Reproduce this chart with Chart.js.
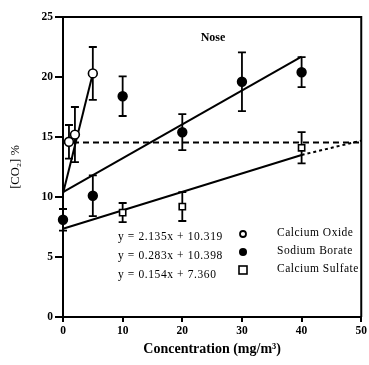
<!DOCTYPE html>
<html>
<head>
<meta charset="UTF-8">
<title>Nose CO2</title>
<script src="https://cdn.jsdelivr.net/npm/chart.js"></script>
<style>
  html, body { margin: 0; padding: 0; background: #fff; }
  #wrap { width: 369px; height: 365px; }
</style>
</head>
<body>
<div id="wrap"><canvas id="c"></canvas></div>
<script>
// values
const oxideX = [1, 2, 5];
const oxideY = [14.6, 15.2, 20.3];
const oxideErr = [1.4, 2.3, 2.2];

const borateX = [0, 5, 10, 20, 30, 40];
const borateY = [8.1, 10.1, 18.4, 15.4, 19.6, 20.4];
const borateErr = [0.9, 1.7, 1.65, 1.5, 2.45, 1.25];

const sulfateX = [10, 20, 40];
const sulfateY = [8.7, 9.2, 14.1];
const sulfateErr = [0.8, 1.2, 1.3];

// fitted lines (end points)
const oxideFitX = [0, 5];
const oxideFitY = [10.3, 20.3];
const borateFitX = [0, 40];
const borateFitY = [10.4, 21.7];
const sulfateFitX = [0, 40];
const sulfateFitY = [7.35, 13.5];
const sulfateExtX = [40, 50];
const sulfateExtY = [13.5, 14.7];
const baselineX = [0, 50];
const baselineY = [14.55, 14.55];

const seriesNames = ['Calcium Oxide', 'Sodium Borate', 'Calcium Sulfate'];
const equations = ['y = 2.135x + 10.319', 'y = 0.283x + 10.398', 'y = 0.154x + 7.360'];
const xTicks = [0, 10, 20, 30, 40, 50];
const yTicks = [0, 5, 10, 15, 20, 25];

const pts = (xs, ys) => xs.map((x, i) => ({ x: x, y: ys[i] }));
const serif = 'Liberation Serif, Times New Roman, serif';

function lineSet(xs, ys, dash) {
  return {
    type: 'line', data: pts(xs, ys), borderColor: '#000', borderWidth: 2,
    borderDash: dash || [], pointRadius: 0, fill: false, order: 2, clip: false
  };
}

function pointSet(xs, ys, errs, style, fill) {
  return {
    type: 'scatter', data: pts(xs, ys), errs: errs,
    pointStyle: style, pointRadius: 4.4, pointBorderWidth: 1.6,
    pointBackgroundColor: fill, pointBorderColor: '#000', order: 0, clip: false
  };
}

const errorBars = {
  id: 'errorBars',
  beforeDatasetsDraw(chart) {
    const ctx = chart.ctx, xs = chart.scales.x, ys = chart.scales.y;
    ctx.save();
    ctx.strokeStyle = '#000';
    ctx.lineWidth = 1.8;
    chart.data.datasets.forEach(ds => {
      if (!ds.errs) return;
      ds.data.forEach((p, i) => {
        const px = xs.getPixelForValue(p.x);
        const top = ys.getPixelForValue(p.y + ds.errs[i]);
        const bot = ys.getPixelForValue(p.y - ds.errs[i]);
        ctx.beginPath();
        ctx.moveTo(px, top); ctx.lineTo(px, bot);
        ctx.moveTo(px - 4, top); ctx.lineTo(px + 4, top);
        ctx.moveTo(px - 4, bot); ctx.lineTo(px + 4, bot);
        ctx.stroke();
      });
    });
    ctx.restore();
  }
};

const extras = {
  id: 'extras',
  afterDraw(chart) {
    const ctx = chart.ctx, a = chart.chartArea;
    ctx.save();
    // frame on top and right
    ctx.strokeStyle = '#000';
    ctx.lineWidth = 2;
    ctx.beginPath();
    ctx.moveTo(a.left, a.top); ctx.lineTo(a.right, a.top); ctx.lineTo(a.right, a.bottom);
    ctx.stroke();

    ctx.fillStyle = '#000';
    ctx.font = 'bold 12px ' + serif;
    ctx.textAlign = 'center';
    ctx.textBaseline = 'middle';
    ctx.fillText('Nose', 213, 38);

    // equations
    ctx.font = '11.5px ' + serif;
    ctx.letterSpacing = '0.6px';
    ctx.textAlign = 'left';
    const eqY = [237, 256, 275];
    equations.forEach((t, i) => ctx.fillText(t, 118, eqY[i]));

    // legend
    const legY = [234, 252, 270];
    ctx.letterSpacing = '0.5px';
    seriesNames.forEach((t, i) => ctx.fillText(t, 277, legY[i] - 1));
    ctx.letterSpacing = '0px';
    ctx.lineWidth = 1.8;
    ctx.beginPath(); ctx.arc(243, legY[0], 3, 0, Math.PI * 2);
    ctx.fillStyle = '#fff'; ctx.fill(); ctx.stroke();
    ctx.beginPath(); ctx.arc(243, legY[1], 4, 0, Math.PI * 2);
    ctx.fillStyle = '#000'; ctx.fill();
    ctx.fillStyle = '#fff';
    ctx.lineWidth = 1.6;
    ctx.fillRect(239, legY[2] - 4, 8, 8);
    ctx.strokeRect(239, legY[2] - 4, 8, 8);
    ctx.restore();
  }
};

new Chart(document.getElementById('c'), {
  data: {
    datasets: [
      lineSet(baselineX, baselineY, [6, 4]),
      lineSet(sulfateExtX, sulfateExtY, [3, 3]),
      lineSet(oxideFitX, oxideFitY),
      lineSet(borateFitX, borateFitY),
      lineSet(sulfateFitX, sulfateFitY),
      pointSet(oxideX, oxideY, oxideErr, 'circle', '#fff'),
      pointSet(borateX, borateY, borateErr, 'circle', '#000'),
      pointSet(sulfateX, sulfateY, sulfateErr, 'rect', '#fff')
    ]
  },
  options: {
    responsive: true,
    maintainAspectRatio: false,
    animation: false,
    layout: { padding: { left: 4, top: 17, right: 6, bottom: 0 } },
    plugins: { legend: { display: false }, tooltip: { enabled: false } },
    scales: {
      x: {
        type: 'linear', min: 0, max: 50,
        afterBuildTicks: s => { s.ticks = xTicks.map(v => ({ value: v })); },
        afterFit: s => { s.height = 48; },
        grid: { drawOnChartArea: false, drawTicks: true, tickLength: 5, color: '#000', lineWidth: 2 },
        border: { display: true, color: '#000', width: 2 },
        ticks: { color: '#000', padding: 2, maxRotation: 0, font: { family: serif, size: 11.5, weight: 'bold' } },
        title: { display: true, text: 'Concentration (mg/m³)', color: '#000', padding: { top: 0, bottom: 7 },
                 font: { family: serif, size: 14, weight: 'bold' } }
      },
      y: {
        type: 'linear', min: 0, max: 25,
        afterBuildTicks: s => { s.ticks = yTicks.map(v => ({ value: v })); },
        afterFit: s => { s.width = 59; },
        grid: { drawOnChartArea: false, drawTicks: true, tickLength: 8, color: '#000', lineWidth: 2 },
        border: { display: true, color: '#000', width: 2 },
        ticks: { color: '#000', padding: 2, font: { family: serif, size: 11.5, weight: 'bold' } },
        title: { display: true, text: '[CO₂] %', color: '#000', padding: { top: 4, bottom: 0 },
                 font: { family: serif, size: 12.5 } }
      }
    }
  },
  plugins: [errorBars, extras]
});
</script>
</body>
</html>
